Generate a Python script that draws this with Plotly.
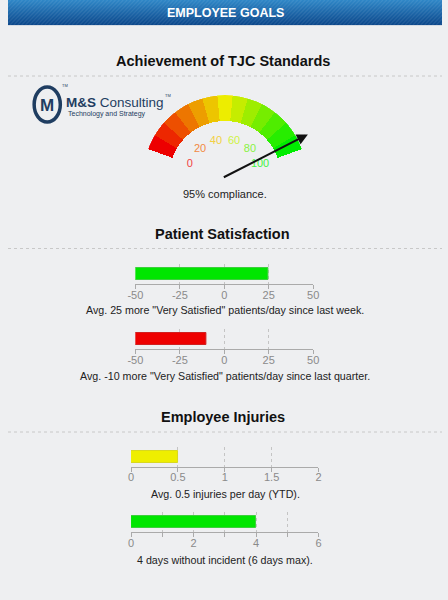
import colorsys
import math
import plotly.graph_objects as go

# ---------------- data ----------------
header_title = "EMPLOYEE GOALS"
section_titles = ["Achievement of TJC Standards", "Patient Satisfaction", "Employee Injuries"]

gauge_value = 95
gauge_min, gauge_max = 0, 100
gauge_segments = 13
gauge_labels = [0, 20, 40, 60, 80, 100]
gauge_caption = "95% compliance."

bar_values = [25, -10, 0.5, 4]
bar_ranges = [(-50, 50), (-50, 50), (0, 2), (0, 6)]
bar_colors = ["#00e600", "#ee0000", "#eeee00", "#00e600"]
bar_edge = ["#3ccf3c", "#d02020", "#d8d820", "#3ccf3c"]
bar_tickvals = [[-50, -25, 0, 25, 50], [-50, -25, 0, 25, 50], [0, 0.5, 1, 1.5, 2], [0, 2, 4, 6]]
bar_ticktext = [["-50", "-25", "0", "25", "50"], ["-50", "-25", "0", "25", "50"],
                ["0", "0.5", "1", "1.5", "2"], ["0", "2", "4", "6"]]
bar_minor_dtick = [None, None, None, 1]
bar_captions = [
    'Avg. 25 more "Very Satisfied" patients/day since last week.',
    'Avg. -10 more "Very Satisfied" patients/day since last quarter.',
    "Avg. 0.5 injuries per day (YTD).",
    "4 days without incident (6 days max).",
]

# ---------------- layout helpers ----------------
W, H = 448, 600
BG = "#eeeff1"
FONT = "Liberation Sans, Arial, sans-serif"


def px(x):
    return x / W


def py(y):
    return 1 - y / H


shapes = []
annotations = []

# header gradient band
top_rgb = (46, 134, 198)
bot_rgb = (12, 72, 140)
n = 25
for i in range(n):
    t = i / (n - 1)
    c = tuple(int(round(a + (b - a) * t)) for a, b in zip(top_rgb, bot_rgb))
    shapes.append(dict(type="rect", xref="paper", yref="paper", x0=0, x1=1,
                       y0=py(i + 1), y1=py(i), line=dict(width=0),
                       fillcolor="rgb(%d,%d,%d)" % c, layer="below"))
# diagonal stripes
for x0 in range(-26, W + 4, 4):
    shapes.append(dict(type="line", xref="paper", yref="paper",
                       x0=px(x0), y0=py(25), x1=px(x0 + 25), y1=py(0),
                       line=dict(color="rgba(255,255,255,0.08)", width=1.2), layer="below"))
shapes.append(dict(type="line", xref="paper", yref="paper", x0=0, x1=1, y0=py(25.5), y1=py(25.5),
                   line=dict(color="#d3dae3", width=1), layer="below"))
annotations.append(dict(text="<b>" + header_title + "</b>", xref="paper", yref="paper",
                        x=0.5, y=py(12.5), showarrow=False,
                        font=dict(family=FONT, size=12.5, color="white"),
                        xanchor="center", yanchor="middle"))

# section titles and dashed separators
title_y = [61, 234, 416.5]
sep_y = [76, 248.5, 432]
for t, ty, sy in zip(section_titles, title_y, sep_y):
    annotations.append(dict(text="<b>" + t + "</b>", xref="paper", yref="paper",
                            x=0.495, y=py(ty), showarrow=False,
                            font=dict(family=FONT, size=14.5, color="#111"),
                            xanchor="center", yanchor="middle"))
    shapes.append(dict(type="line", xref="paper", yref="paper", x0=0, x1=1, y0=py(sy), y1=py(sy),
                       line=dict(color="#c8c8c8", width=1, dash="3px,3px"), layer="below"))

# logo
NAVY = "#1f3d61"
shapes.append(dict(type="circle", xref="paper", yref="paper",
                   x0=px(27), x1=px(54), y0=py(122), y1=py(87),
                   line=dict(color=NAVY, width=3.5)))
annotations.append(dict(text="<b>M</b>", xref="paper", yref="paper", x=px(40.5), y=py(105),
                        showarrow=False, font=dict(family=FONT, size=17, color=NAVY),
                        xanchor="center", yanchor="middle"))
annotations.append(dict(text="<b>M&S</b> Consulting", xref="paper", yref="paper", x=px(58), y=py(102.5),
                        showarrow=False, font=dict(family=FONT, size=13.5, color=NAVY),
                        xanchor="left", yanchor="middle"))
annotations.append(dict(text="TM", xref="paper", yref="paper", x=px(160), y=py(95),
                        showarrow=False, font=dict(family=FONT, size=4, color=NAVY),
                        xanchor="left", yanchor="middle"))
annotations.append(dict(text="TM", xref="paper", yref="paper", x=px(54), y=py(86),
                        showarrow=False, font=dict(family=FONT, size=4, color=NAVY),
                        xanchor="left", yanchor="middle"))
annotations.append(dict(text="Technology and Strategy", xref="paper", yref="paper", x=px(60), y=py(114),
                        showarrow=False, font=dict(family=FONT, size=7, color=NAVY),
                        xanchor="left", yanchor="middle"))

# ---------------- gauge ----------------
SPAN = 140.0          # degrees covered by gauge
START = 160.0         # angle of min value (deg ccw from east)
cx, cy, R, R_in = 224, 177, 79, 54
RD = R * 1.07         # domain half-size (polar shrinks slightly inside its domain)


def to_deg(v):
    return (v - gauge_min) / (gauge_max - gauge_min) * SPAN


seg_w = (gauge_max - gauge_min) / gauge_segments
seg_centers = [gauge_min + (i + 0.5) * seg_w for i in range(gauge_segments)]
seg_colors = []
for i in range(gauge_segments):
    h = (i / (gauge_segments - 1)) * 120 / 360
    r, g, b = colorsys.hsv_to_rgb(h, 1.0, 0.93)
    seg_colors.append("rgb(%d,%d,%d)" % (r * 255, g * 255, b * 255))

fig = go.Figure()
fig.add_trace(go.Barpolar(
    theta=[to_deg(v) for v in seg_centers],
    r=[1 - R_in / R] * gauge_segments,
    base=[R_in / R] * gauge_segments,
    width=[SPAN / gauge_segments] * gauge_segments,
    marker=dict(color=seg_colors, line=dict(width=0)),
    hoverinfo="skip", showlegend=False, subplot="polar"))

label_colors = []
for v in gauge_labels:
    h = to_deg(v) / SPAN * 120 / 360
    r, g, b = colorsys.hsv_to_rgb(h, 0.72, 0.95)
    label_colors.append("rgb(%d,%d,%d)" % (r * 255, g * 255, b * 255))
fig.add_trace(go.Scatterpolar(
    theta=[to_deg(v) for v in gauge_labels], r=[36 / R] * len(gauge_labels),
    mode="text", text=[str(v) for v in gauge_labels],
    textfont=dict(family=FONT, size=11, color=label_colors),
    hoverinfo="skip", showlegend=False, subplot="polar"))

# needle arrow derived from gauge value
ang = math.radians(START - to_deg(gauge_value))
L = 96
annotations.append(dict(x=px(cx + L * math.cos(ang)), y=py(cy + 1 - L * math.sin(ang)),
                        xref="paper", yref="paper", ax=-L * math.cos(ang), ay=L * math.sin(ang),
                        axref="pixel", ayref="pixel", text="", showarrow=True,
                        arrowhead=2, arrowsize=1.1, arrowwidth=2, arrowcolor="#111"))
annotations.append(dict(text=gauge_caption, xref="paper", yref="paper", x=px(224), y=py(193.5),
                        showarrow=False, font=dict(family=FONT, size=11, color="#222"),
                        xanchor="center", yanchor="middle"))

polar = dict(
    domain=dict(x=[px(cx - RD), px(cx + RD)], y=[py(cy + RD), py(cy - RD)]),
    bgcolor="rgba(0,0,0,0)",
    radialaxis=dict(range=[0, 1], visible=False),
    angularaxis=dict(visible=False, rotation=START, direction="clockwise"),
)

# ---------------- bars ----------------
x_dom = [(131.5, 315), (131.5, 315), (127, 320.5), (127, 320.5)]
y_dom = [(264, 284.3), (329, 349.3), (447, 467), (512, 532.3)]
cap_y = [310, 376, 494, 560]

layout_axes = {}
for i in range(4):
    k = "" if i == 0 else str(i + 1)
    lo, hi = bar_ranges[i]
    fig.add_trace(go.Bar(
        x=[bar_values[i] - lo], base=[lo], y=[0], orientation="h", width=0.58,
        marker=dict(color=bar_colors[i], line=dict(color=bar_edge[i], width=1)),
        xaxis="x" + k, yaxis="y" + k, showlegend=False, hoverinfo="skip"))
    xa = dict(domain=[px(x_dom[i][0]), px(x_dom[i][1])], range=[lo, hi], anchor="y" + k,
              tickvals=bar_tickvals[i], ticktext=bar_ticktext[i],
              showgrid=True, gridcolor="#c4c4c4", griddash="3px,3px", gridwidth=1,
              showline=True, linecolor="#aaaaaa", linewidth=1,
              ticks="outside", ticklen=4, tickcolor="#aaaaaa", tickwidth=1,
              ticklabelstandoff=-4,
              tickfont=dict(family=FONT, size=11, color="#8a8a8a"),
              zeroline=False, fixedrange=True)
    if bar_minor_dtick[i]:
        xa["minor"] = dict(dtick=bar_minor_dtick[i], ticks="outside", ticklen=4, tickcolor="#aaaaaa",
                           showgrid=True, gridcolor="#c4c4c4", griddash="3px,3px")
    ya = dict(domain=[py(y_dom[i][1]), py(y_dom[i][0])], range=[-0.5, 0.5], anchor="x" + k,
              visible=False, fixedrange=True)
    layout_axes["xaxis" + k] = xa
    layout_axes["yaxis" + k] = ya
    annotations.append(dict(text=bar_captions[i], xref="paper", yref="paper", x=px(224), y=py(cap_y[i]),
                            showarrow=False, font=dict(family=FONT, size=10.7, color="#222"),
                            xanchor="center", yanchor="middle"))

fig.update_layout(
    width=W, height=H, autosize=False,
    margin=dict(l=0, r=0, t=0, b=0, pad=0),
    paper_bgcolor=BG, plot_bgcolor="rgba(0,0,0,0)",
    shapes=shapes, annotations=annotations, polar=polar,
    showlegend=False, bargap=0, **layout_axes,
)

fig.write_html("out.html", config=dict(displayModeBar=False))
